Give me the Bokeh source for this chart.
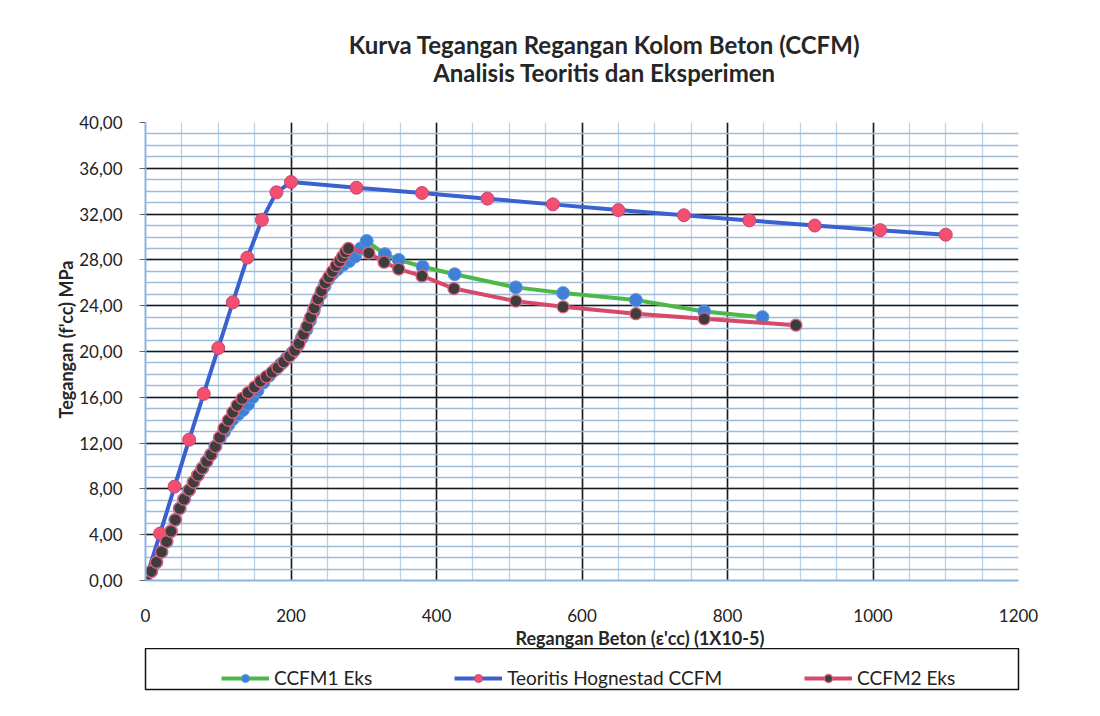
from bokeh.plotting import figure
from bokeh.layouts import column
from bokeh.models import (Range1d, FixedTicker, Legend, LegendItem, Title, Label,
                          ColumnDataSource)
from bokeh.embed import file_html
from bokeh.resources import INLINE

# ---------------- data ----------------
teo_x = [0, 20, 40, 60, 80, 100, 120, 140, 160, 180, 200,
         290, 380, 470, 560, 650, 740, 830, 920, 1010, 1100]
teo_y = [0.0, 4.1, 8.2, 12.3, 16.3, 20.3, 24.3, 28.2, 31.5, 33.9, 34.8,
         34.3, 33.85, 33.35, 32.85, 32.35, 31.9, 31.45, 31.0, 30.6, 30.2]

ccfm1_x = [0, 8, 15, 22, 29, 35, 41, 47, 53, 60, 66, 72, 78, 84, 90, 96,
           102, 108, 114, 120, 127, 134, 141, 147, 154, 162, 170, 178, 186,
           194, 202, 209, 215, 221, 226, 231, 236, 241, 246, 251, 257, 264,
           272, 280, 288, 296, 304,
           329, 348, 381, 425, 509, 574, 674, 768, 848]
ccfm1_y = [0.0, 0.8, 1.6, 2.5, 3.4, 4.3, 5.3, 6.3, 7.1, 7.9, 8.6, 9.2, 9.8,
           10.4, 11.0, 11.7, 12.4, 13.0, 13.6, 14.1, 14.5, 14.9, 15.4, 16.0,
           16.6, 17.3, 17.9, 18.4, 18.9, 19.4, 19.9, 20.5, 21.2, 21.9, 22.7,
           23.5, 24.3, 25.0, 25.7, 26.3, 26.8, 27.2, 27.6, 27.9, 28.3, 29.0,
           29.65,
           28.5, 28.0, 27.4, 26.75, 25.6, 25.1, 24.5, 23.5, 23.0]

ccfm2_x = [0, 8, 15, 22, 29, 35, 41, 47, 53, 60, 66, 72, 78, 84, 90, 96,
           102, 108, 114, 120, 126, 133, 141, 150, 158, 166, 174, 182, 190,
           198, 205, 211, 217, 222, 227, 232, 237, 242, 247, 252, 257, 262,
           267, 271, 275, 279,
           307, 328, 348, 380, 424, 509, 574, 674, 768, 894]
ccfm2_y = [0.0, 0.8, 1.6, 2.5, 3.4, 4.3, 5.3, 6.3, 7.1, 7.9, 8.6, 9.2, 9.8,
           10.4, 11.0, 11.7, 12.5, 13.3, 14.0, 14.7, 15.3, 15.9, 16.4, 16.9,
           17.4, 17.8, 18.2, 18.6, 19.1, 19.6, 20.1, 20.7, 21.5, 22.2, 23.0,
           23.8, 24.6, 25.3, 26.0, 26.5, 27.0, 27.5, 27.9, 28.3, 28.7, 29.0,
           28.6, 27.8, 27.2, 26.6, 25.5, 24.4, 23.9, 23.3, 22.85, 22.3]

x_ticks = [0, 200, 400, 600, 800, 1000, 1200]
y_ticks = [0, 4, 8, 12, 16, 20, 24, 28, 32, 36, 40]
y_tick_labels = {t: f"{t:.2f}".replace(".", ",") for t in y_ticks}

title_lines = ["Kurva Tegangan Regangan Kolom Beton (CCFM)",
               "Analisis Teoritis dan Eksperimen"]
x_title = "Regangan Beton (\u03b5'cc)  (1X10-5)"
y_title = "Tegangan  (f'cc)   MPa"
names = ["CCFM1 Eks", "Teoritis Hognestad CCFM", "CCFM2 Eks"]

FONT = "Lato"
TXT = "#262626"
W = 1092
BL, BR = 145, 74          # frame borders shared by all strips

# ---------------- title strip ----------------
TOP_H = 100
top = figure(width=W, height=TOP_H, output_backend="svg", toolbar_location=None,
             x_range=Range1d(BL, W - BR), y_range=Range1d(TOP_H, 0),
             x_axis_location=None, y_axis_location=None,
             min_border_left=BL, min_border_right=BR,
             min_border_top=0, min_border_bottom=0)
top.grid.visible = False
top.outline_line_color = None
top.add_layout(Label(x=604, y=43.5, text=title_lines[0], text_align="center",
                     text_baseline="middle", text_font=FONT, text_font_style="bold",
                     text_font_size="24px", text_color=TXT))
top.add_layout(Label(x=604, y=71.5, text=title_lines[1], text_align="center",
                     text_baseline="middle", text_font=FONT, text_font_style="bold",
                     text_font_size="24px", text_color=TXT))

# ---------------- main chart ----------------
MAIN_BOTTOM = 66
MAIN_H = 122 - TOP_H + 460 + MAIN_BOTTOM
p = figure(width=W, height=MAIN_H, output_backend="svg", toolbar_location=None,
           x_range=Range1d(0, 1200), y_range=Range1d(0, 40),
           min_border_left=BL, min_border_right=BR,
           min_border_top=122 - TOP_H, min_border_bottom=MAIN_BOTTOM)
p.outline_line_color = None
p.background_fill_color = "white"
p.border_fill_color = "white"

p.xaxis.ticker = FixedTicker(ticks=x_ticks, minor_ticks=list(range(0, 1201, 50)))
p.yaxis.ticker = FixedTicker(ticks=y_ticks, minor_ticks=list(range(0, 41, 1)))
p.yaxis.major_label_overrides = y_tick_labels

for ax in (p.xaxis, p.yaxis):
    ax.axis_line_color = "#8db3e2"
    ax.axis_line_width = 2
    ax.minor_tick_line_color = None
    ax.major_label_text_font = FONT
    ax.major_label_text_font_size = "17px"
    ax.major_label_text_color = "#222222"
p.xaxis.major_tick_line_color = None
p.xaxis.major_tick_out = 0
p.xaxis.major_tick_in = 0
p.xaxis.major_label_standoff = 24
p.yaxis.major_tick_line_color = "#666666"
p.yaxis.major_tick_out = 6
p.yaxis.major_tick_in = 0
p.yaxis.major_label_standoff = 17

for g in (p.xgrid, p.ygrid):
    g.grid_line_color = "#1a1a1a"
    g.grid_line_width = 1.6
    g.minor_grid_line_width = 1.3
p.xgrid.minor_grid_line_color = "#b6d1ea"
p.ygrid.minor_grid_line_color = "#9fbad5"

s1 = ColumnDataSource(dict(x=ccfm1_x, y=ccfm1_y))
s2 = ColumnDataSource(dict(x=teo_x, y=teo_y))
s3 = ColumnDataSource(dict(x=ccfm2_x, y=ccfm2_y))

STY = [
    dict(line=dict(line_color="#4cb847", line_width=4),
         mark=dict(size=13, fill_color="#3f7fd6", line_color="#5c9ae0", line_width=1)),
    dict(line=dict(line_color="#3a61cf", line_width=4),
         mark=dict(size=13, fill_color="#f2506e", line_color="#c7467c", line_width=1)),
    dict(line=dict(line_color="#d6496b", line_width=4),
         mark=dict(size=12, fill_color="#3d3d3d", line_color="#e0607c", line_width=1.3)),
]
sources = [s1, s2, s3]

for src, st in zip(sources, STY):
    p.line("x", "y", source=src, **st["line"])
    p.scatter("x", "y", source=src, **st["mark"])

xt = Title(text=x_title, align="left", offset=370, standoff=0,
           text_font=FONT, text_font_style="bold", text_font_size="18px",
           text_color=TXT)
p.add_layout(xt, "below")

yt = Title(text=y_title, align="left", offset=162, standoff=0,
           text_font=FONT, text_font_style="bold", text_font_size="18px",
           text_color=TXT)
p.add_layout(yt, "left")

# ---------------- legend strip ----------------
LEG_H = 708 - TOP_H - MAIN_H
lf = figure(width=W, height=LEG_H, output_backend="svg", toolbar_location=None,
            x_range=Range1d(0, 1), y_range=Range1d(0, 1),
            x_axis_location=None, y_axis_location=None,
            min_border_left=BL, min_border_right=BR,
            min_border_top=0, min_border_bottom=LEG_H - 41)
lf.grid.visible = False
lf.outline_line_color = "#111111"
lf.outline_line_width = 1.5

items = []
for name, src, st in zip(names, sources, STY):
    rl = lf.line("x", "y", source=src, visible=False, **st["line"])
    rm = lf.scatter("x", "y", source=src, visible=False, **st["mark"])
    items.append(LegendItem(label=name, renderers=[rl, rm]))

legend = Legend(items=items, orientation="horizontal", location=(76, 0),
                glyph_width=48, glyph_height=20, label_standoff=5,
                spacing=82, padding=9, margin=0,
                label_text_font=FONT, label_text_font_size="19px",
                label_text_color="#222222",
                border_line_color=None, background_fill_alpha=0,
                inactive_fill_alpha=0)
lf.add_layout(legend, "center")

layout = column(top, p, lf, spacing=0)
open("out.html", "w").write(file_html(layout, INLINE))
